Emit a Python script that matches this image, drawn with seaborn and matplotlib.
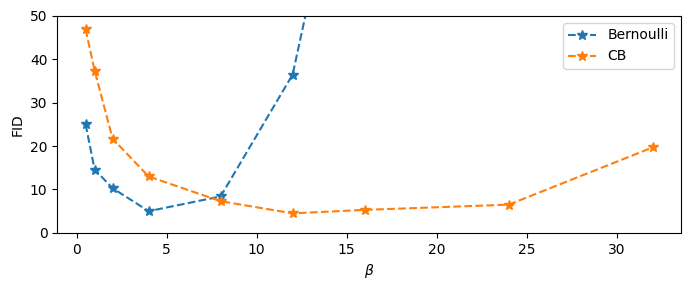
import matplotlib
matplotlib.use("Agg")
import matplotlib.pyplot as plt
import seaborn as sns
import pandas as pd

beta_bern = [0.5, 1, 2, 4, 8, 12, 16]
fid_bern = [25.0, 14.6, 10.3, 5.0, 8.4, 36.5, 113.0]
beta_cb = [0.5, 1, 2, 4, 8, 12, 16, 24, 32]
fid_cb = [46.9, 37.4, 21.7, 13.0, 7.3, 4.5, 5.3, 6.5, 19.7]

fig, ax = plt.subplots(figsize=(6.9, 2.9), dpi=100)
sns.lineplot(x=beta_bern, y=fid_bern, ax=ax, linestyle="--", marker="*",
             markersize=7, markeredgewidth=1, color="#1f77b4",
             markeredgecolor="#1f77b4", label="Bernoulli")
sns.lineplot(x=beta_cb, y=fid_cb, ax=ax, linestyle="--", marker="*",
             markersize=7, markeredgewidth=1, color="#ff7f0e",
             markeredgecolor="#ff7f0e", label="CB")
ax.set_xlim(-1.075, 33.575)
ax.set_ylim(0, 50)
ax.set_xlabel(r"$\beta$")
ax.set_ylabel("FID")
ax.legend(loc="upper right")
fig.subplots_adjust(left=0.083, right=0.987, top=0.945, bottom=0.197)
fig.savefig("out.png", dpi=100)
